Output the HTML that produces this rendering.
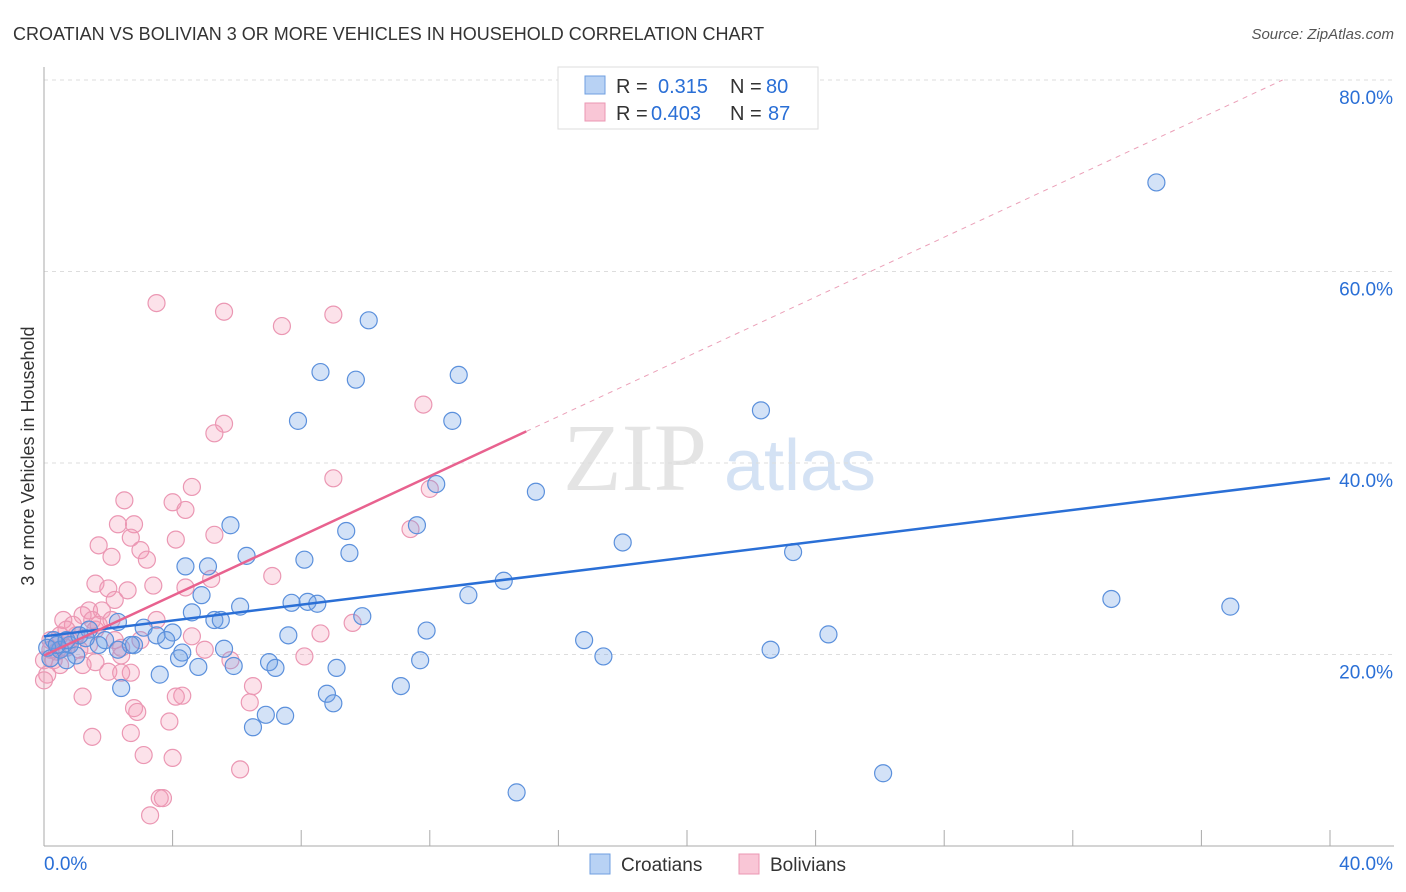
<!DOCTYPE html>
<html><head><meta charset="utf-8">
<style>
body{margin:0;background:#fff;font-family:"Liberation Sans",sans-serif;}
#wrap{position:relative;width:1406px;height:892px;overflow:hidden;}
</style></head>
<body>
<div id="wrap">
<svg id="svg" width="1406" height="892" xmlns="http://www.w3.org/2000/svg">
<text x="13" y="40" font-size="18" fill="#333">CROATIAN VS BOLIVIAN 3 OR MORE VEHICLES IN HOUSEHOLD CORRELATION CHART</text>
<text x="1394" y="39" font-size="15" fill="#555" font-style="italic" text-anchor="end">Source: ZipAtlas.com</text>
<text transform="translate(34,456) rotate(-90)" font-size="18" fill="#333" text-anchor="middle">3 or more Vehicles in Household</text>
<g>
<text x="635" y="490" font-size="96" fill="#e4e4e4" text-anchor="middle" font-family="Liberation Serif,serif">ZIP</text>
<text x="800" y="490" font-size="72" fill="#d4e2f4" text-anchor="middle">atlas</text>
</g>
<g id="grid"></g>
<g id="axes"></g>
<g id="pts"></g>
<g id="lines"></g>
<g>
<rect x="558" y="67" width="260" height="62" fill="#fff" stroke="#ddd"/>
<rect x="585" y="76" width="20" height="18" fill="#b8d2f4" stroke="#6f9fe0"/>
<rect x="585" y="103" width="20" height="18" fill="#f9c6d6" stroke="#eb97b3"/>
<text x="616" y="93" font-size="20" fill="#333">R = </text><text x="658" y="93" font-size="20" fill="#2a6fd6">0.315</text>
<text x="730" y="93" font-size="20" fill="#333">N = </text><text x="766" y="93" font-size="20" fill="#2a6fd6">80</text>
<text x="616" y="120" font-size="20" fill="#333">R = </text><text x="651" y="120" font-size="20" fill="#2a6fd6">0.403</text>
<text x="730" y="120" font-size="20" fill="#333">N = </text><text x="768" y="120" font-size="20" fill="#2a6fd6">87</text>
</g>
<g>
<rect x="590" y="854" width="20" height="20" fill="#b8d2f4" stroke="#6f9fe0"/>
<text x="621" y="871" font-size="19" fill="#333">Croatians</text>
<rect x="739" y="854" width="20" height="20" fill="#f9c6d6" stroke="#eb97b3"/>
<text x="770" y="871" font-size="19" fill="#333">Bolivians</text>
</g>
</svg>
</div>
<script>
const blueX=[34.6,10.1,8.6,12.9,9.7,22.3,7.9,12.7,12.2,15.3,5.8,11.6,9.4,18.0,6.3,9.5,23.3,8.1,4.4,5.1,14.3,4.9,13.2,33.2,36.9,7.7,8.2,8.5,6.1,4.6,9.9,5.3,5.5,2.3,1.4,11.9,7.6,4.0,3.1,3.5,24.4,16.8,3.8,1.9,2.8,2.7,2.3,5.6,4.3,4.2,17.4,22.6,11.7,7.0,5.9,4.8,7.2,9.1,3.6,2.4,11.1,8.8,9.0,6.9,7.5,6.5,26.1,14.7,0.3,0.5,0.1,0.8,0.7,1.1,0.2,1.0,1.7,1.3,0.4,0.7];
const blueY=[69.3,54.9,49.5,49.2,48.7,45.5,44.4,44.4,37.8,37.0,33.5,33.5,32.9,31.7,30.3,30.6,30.7,29.9,29.2,29.2,27.7,26.2,26.2,25.8,25.0,25.4,25.5,25.3,25.0,24.4,24.0,23.6,23.6,23.4,22.6,22.5,22.0,22.3,22.8,22.0,22.1,21.5,21.5,21.5,21.0,21.0,20.5,20.6,20.2,19.6,19.8,20.5,19.4,19.2,18.8,18.7,18.6,18.6,17.9,16.5,16.7,15.9,14.9,13.7,13.6,12.4,7.6,5.6,21.5,20.5,20.7,21.0,21.5,22.0,19.6,19.9,21.0,21.7,21.0,19.4];
const pinkX=[3.5,5.6,9.0,7.4,11.8,5.6,5.3,9.0,12.0,4.6,2.5,4.0,4.4,11.4,2.3,2.8,5.3,4.1,1.7,2.7,3.0,2.1,3.2,7.1,5.2,1.6,3.4,4.4,2.0,2.6,2.2,1.4,1.8,0.6,1.2,3.5,2.1,9.6,1.6,8.6,4.6,1.0,2.2,1.4,0.8,0.5,3.0,5.0,2.4,0.2,0.0,0.3,0.5,1.2,1.6,8.1,2.7,2.0,2.4,5.8,0.1,6.5,1.2,4.3,4.1,6.4,2.8,2.9,3.9,2.7,1.5,6.1,3.1,4.0,3.6,3.7,3.3,0.0,0.7,0.9,1.7,0.4,1.1,1.5,2.4,0.2,0.7];
const pinkY=[56.7,55.8,55.5,54.3,46.1,44.1,43.1,38.4,37.3,37.5,36.1,35.9,35.1,33.1,33.6,33.6,32.5,32.0,31.4,32.2,30.9,30.2,29.9,28.2,27.9,27.4,27.2,27.0,26.9,26.7,25.7,24.6,24.6,23.6,24.1,23.6,23.6,23.3,22.6,22.2,21.9,22.0,21.5,21.0,21.5,22.0,21.5,20.5,19.9,20.5,19.4,19.4,18.9,18.9,19.2,19.8,18.1,18.2,18.1,19.4,17.9,16.7,15.6,15.7,15.6,15.0,14.4,14.0,13.0,11.8,11.4,8.0,9.5,9.2,5.0,5.0,3.2,17.3,20.7,23.1,23.1,20.3,20.5,23.6,20.7,21.5,22.6];
const blueTrend=[21.9,38.4];      // y at x=0 and x=40
const pinkTrend=[19.9,1.56];      // intercept, slope
const pinkSolidEnd=15.0;
const xTicks=[0,4,8,12,16,20,24,28,32,36,40];
const yTicks=[20,40,60,80];

const NS="http://www.w3.org/2000/svg";
const X=v=>44+v*32.15, Y=v=>846-v*9.575;
function mk(tag,at,parent){const e=document.createElementNS(NS,tag);for(const k in at)e.setAttribute(k,at[k]);parent.appendChild(e);return e;}
const grid=document.getElementById('grid'),axes=document.getElementById('axes'),pts=document.getElementById('pts'),lines=document.getElementById('lines');
yTicks.forEach(t=>{
  const l=mk('line',{x1:44,x2:1394,y1:Y(t),y2:Y(t),stroke:'#ddd','stroke-dasharray':'4,4'},grid);
  
  
  const tx=mk('text',{x:1393,y:Y(t)+24,'font-size':19,fill:'#2a6fd6','text-anchor':'end'},axes);
  tx.textContent=t.toFixed(1)+'%';
  
  
});
const ya=mk('line',{x1:44,x2:44,y1:67,y2:846,stroke:'#aaa'},axes);


const xa=mk('line',{x1:44,x2:1394,y1:846,y2:846,stroke:'#aaa'},axes);


xTicks.forEach(t=>{
  if(t===0)return;
  const tk=mk('line',{x1:X(t),x2:X(t),y1:830,y2:846,stroke:'#aaa'},axes);
  
  
});
[[0,'start',44],[40,'end',1393]].forEach(([v,a,px])=>{
  const tx=mk('text',{x:px,y:870,'font-size':19,fill:'#2a6fd6','text-anchor':a},axes);
  tx.textContent=v.toFixed(1)+'%';
  
  
});
function dots(xs,ys,fill,stroke,name){
  xs.forEach((v,i)=>{
    const c=mk('circle',{cx:X(v),cy:Y(ys[i]),r:8.5,fill:fill,stroke:stroke,'stroke-width':1.2},pts);
    
    
  });
}
dots(pinkX,pinkY,'rgba(244,150,180,0.28)','#eb97b3','bolivian-point');
dots(blueX,blueY,'rgba(110,160,230,0.30)','#5b90dc','croatian-point');
const bl=mk('line',{x1:X(0),y1:Y(blueTrend[0]),x2:X(40),y2:Y(blueTrend[1]),stroke:'#2a6fd6','stroke-width':2.5},lines);


const pEnd=(80-pinkTrend[0])/pinkTrend[1];
const pd=mk('line',{x1:X(pinkSolidEnd),y1:Y(pinkTrend[0]+pinkTrend[1]*pinkSolidEnd),x2:X(pEnd),y2:Y(80),stroke:'#eba0b8','stroke-width':1,'stroke-dasharray':'5,5'},lines);


const pl=mk('line',{x1:X(0),y1:Y(pinkTrend[0]),x2:X(pinkSolidEnd),y2:Y(pinkTrend[0]+pinkTrend[1]*pinkSolidEnd),stroke:'#e8628f','stroke-width':2.5},lines);


</script>
</body></html>
